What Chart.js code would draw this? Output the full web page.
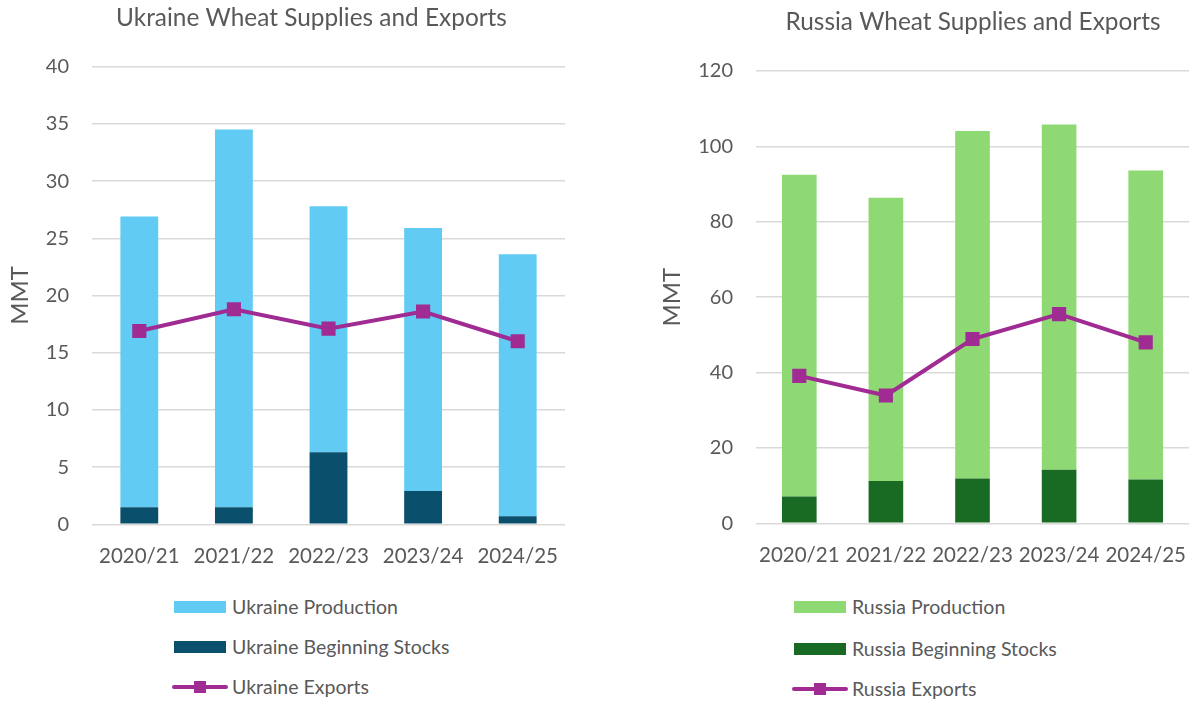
<!DOCTYPE html>
<html>
<head>
<meta charset="utf-8">
<title>Ukraine and Russia Wheat Supplies and Exports</title>
<script src="https://cdn.jsdelivr.net/npm/chart.js@4.4.1/dist/chart.umd.min.js"></script>
<style>
  html, body { margin: 0; padding: 0; background: #fff; overflow: hidden; width: 1194px; height: 702px; }
  .chart-box { position: absolute; top: 0; height: 572px; }
  #ukraine-box { left: 0; width: 623px; }
  #russia-box { left: 650px; width: 646px; }
  .legend { position: absolute; font-family: Lato, sans-serif; font-size: 19.5px; color: #595959; }
  .legend-item { position: absolute; left: 0; white-space: nowrap; height: 20px; line-height: 20px; }
  .swatch { position: absolute; left: 0; top: 4px; width: 52px; height: 12px; }
  .line-swatch { position: absolute; left: -2px; top: 8px; width: 56px; height: 4px; border-radius: 2px; }
  .line-marker { position: absolute; left: 22px; top: -4px; width: 12px; height: 12px; }
  .legend-label { position: absolute; left: 58px; top: 0; }
</style>
</head>
<body>
<div class="chart-box" id="ukraine-box"><canvas id="chart-ukraine"></canvas></div>
<div class="chart-box" id="russia-box"><canvas id="chart-russia"></canvas></div>
<div class="legend" id="legend-ukraine" style="left:174px; top:0;"></div>
<div class="legend" id="legend-russia" style="left:794px; top:0;"></div>

<script>
// Marketing years
const seasons = ['2020/21', '2021/22', '2022/23', '2023/24', '2024/25'];

// Ukraine (MMT)
const ukraineProduction = [25.4, 33.0, 21.5, 23.0, 22.9];
const ukraineBeginningStocks = [1.5, 1.5, 6.3, 2.9, 0.7];
const ukraineExports = [16.9, 18.8, 17.1, 18.6, 16.0];

// Russia (MMT)
const russiaProduction = [85.4, 75.2, 92.2, 91.6, 82.0];
const russiaBeginningStocks = [7.1, 11.2, 11.9, 14.2, 11.6];
const russiaExports = [39.1, 33.9, 48.9, 55.5, 48.0];

// Axis ranges: min, max, step
const ukraineAxis = [0, 40, 5];
const russiaAxis = [0, 120, 20];

const FONT = 'Lato, sans-serif';
const TEXT_COLOR = '#595959';
const GRID_COLOR = '#D9D9D9';
const EXPORT_COLOR = '#A02B93';

/**
 * Build one stacked bar + line chart
 */
function makeChart(canvasId, cfg) {
  const canvas = document.getElementById(canvasId);

  return new Chart(canvas, {
    type: 'bar',
    data: {
      labels: seasons,
      datasets: [
        {
          label: cfg.country + ' Beginning Stocks',
          data: cfg.stocks,
          backgroundColor: cfg.stockColor,
          order: 1,
        },
        {
          label: cfg.country + ' Production',
          data: cfg.production,
          backgroundColor: cfg.prodColor,
          order: 1,
        },
        {
          type: 'line',
          label: cfg.country + ' Exports',
          data: cfg.exports,
          borderColor: EXPORT_COLOR,
          backgroundColor: EXPORT_COLOR,
          borderWidth: 4,
          pointStyle: 'rect',
          pointRadius: 10,
          pointBorderWidth: 0,
          tension: 0,
          order: 0,
        },
      ],
    },
    options: {
      responsive: true,
      maintainAspectRatio: false,
      animation: false,
      events: [],
      layout: { padding: 0 },
      datasets: {
        bar: { categoryPercentage: 1, barPercentage: 0.4 },
      },
      plugins: {
        legend: { display: false },
        tooltip: { enabled: false },
        title: {
          display: true,
          text: cfg.country + ' Wheat Supplies and Exports',
          color: TEXT_COLOR,
          font: { family: FONT, size: 24.4, weight: 'normal' },
          padding: { top: cfg.titleTop, bottom: cfg.titleBottom },
        },
      },
      scales: {
        x: {
          stacked: true,
          grid: { display: false, drawTicks: false },
          border: { display: false },
          ticks: {
            color: TEXT_COLOR,
            font: { family: FONT, size: 20.5 },
            padding: 20,
            autoSkip: false,
            minRotation: 0,
            maxRotation: 0,
          },
          afterFit: (s) => { s.height = cfg.xHeight; },
        },
        y: {
          stacked: true,
          min: cfg.axis[0],
          max: cfg.axis[1],
          grid: { color: GRID_COLOR, lineWidth: 1.5, drawTicks: false },
          border: { display: false },
          ticks: {
            stepSize: cfg.axis[2],
            color: TEXT_COLOR,
            font: { family: FONT, size: 20 },
            padding: 23,
          },
          title: {
            display: true,
            text: 'MMT',
            color: TEXT_COLOR,
            font: { family: FONT, size: 24 },
            padding: { top: cfg.yTitlePad, bottom: 0 },
          },
          afterFit: (s) => { s.width = cfg.yWidth; },
        },
        // empty right-hand spacer so the title stays centred on the whole panel
        spacer: {
          type: 'linear',
          position: 'right',
          display: true,
          grid: { display: false, drawTicks: false },
          border: { display: false },
          ticks: { display: false },
          afterFit: (s) => { s.width = cfg.padRight; },
        },
      },
    },
  });
}

/**
 * Build an HTML legend, one entry per row
 */
function renderLegend(containerId, chart, order, tops) {
  const box = document.getElementById(containerId);
  box.innerHTML = '';
  order.forEach((idx, i) => {
    const ds = chart.data.datasets[idx];
    const item = document.createElement('div');
    item.className = 'legend-item';
    item.style.top = tops[i] + 'px';
    if (ds.type === 'line') {
      item.innerHTML = `<div class="line-swatch" style="background:${ds.borderColor}">
        <div class="line-marker" style="background:${ds.borderColor}"></div></div>`;
    } else {
      item.innerHTML = `<div class="swatch" style="background:${ds.backgroundColor}"></div>`;
    }
    const label = document.createElement('span');
    label.className = 'legend-label';
    label.textContent = ds.label;
    item.appendChild(label);
    box.appendChild(item);
  });
}

const ukraineChart = makeChart('chart-ukraine', {
  country: 'Ukraine',
  production: ukraineProduction,
  stocks: ukraineBeginningStocks,
  exports: ukraineExports,
  prodColor: '#61CBF3',
  stockColor: '#0A4F6B',
  axis: ukraineAxis,
  padRight: 58,
  titleTop: 3.9,
  titleBottom: 33.5,
  xHeight: 47.7,
  yWidth: 92,
  yTitlePad: 6,
});

const russiaChart = makeChart('chart-russia', {
  country: 'Russia',
  production: russiaProduction,
  stocks: russiaBeginningStocks,
  exports: russiaExports,
  prodColor: '#8ED973',
  stockColor: '#196B24',
  axis: russiaAxis,
  padRight: 107,
  titleTop: 7.9,
  titleBottom: 33.8,
  xHeight: 48.7,
  yWidth: 106,
  yTitlePad: 8,
});

renderLegend('legend-ukraine', ukraineChart, [1, 0, 2], [596.5, 637, 677]);
renderLegend('legend-russia', russiaChart, [1, 0, 2], [596.5, 639, 679.3]);
</script>
</body>
</html>
